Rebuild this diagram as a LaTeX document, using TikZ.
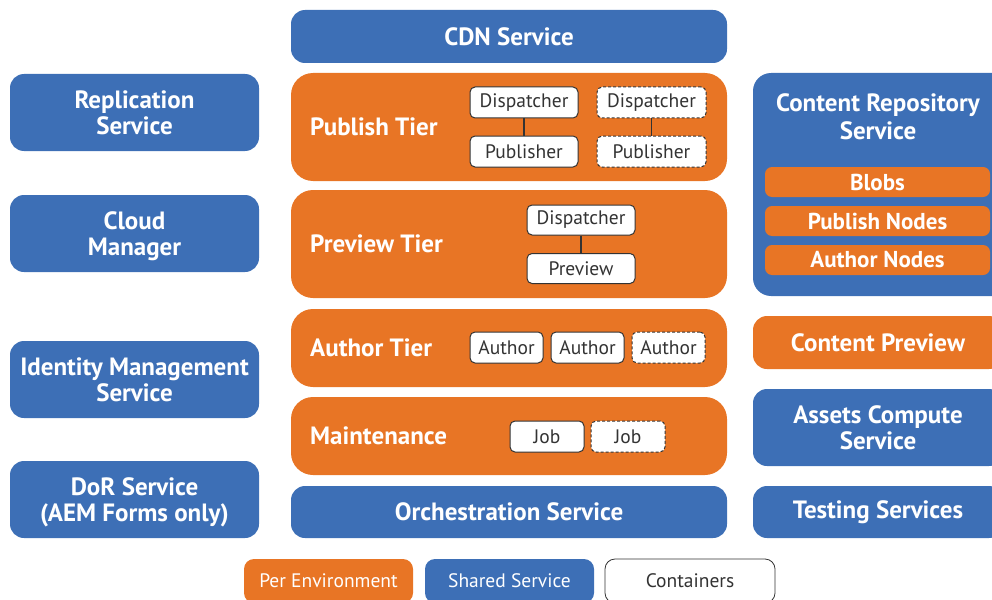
\documentclass[tikz,border=0pt]{standalone}
\usepackage{fontspec}
\setmainfont{PT Sans}
\definecolor{aemblue}{RGB}{61,111,182}
\definecolor{aemorange}{RGB}{232,117,37}
\definecolor{boxline}{RGB}{51,51,51}
\newcommand{\nodepth}[1]{\raisebox{0pt}[\height][0pt]{#1}}
\tikzset{
  x=1pt, y=-1pt,
  bluebox/.style={fill=aemblue, draw=none, rounded corners=14pt, text=white, align=center,
    font=\fontsize{25}{26}\selectfont\bfseries, inner sep=0pt},
  orangebox/.style={fill=aemorange, draw=none, rounded corners=22pt, inner sep=0pt},
  orangebar/.style={fill=aemorange, draw=none, rounded corners=7pt, text=white,
    font=\fontsize{23}{24}\selectfont\bfseries, inner sep=0pt},
  tierlabel/.style={text=white, font=\fontsize{25}{26}\selectfont\bfseries, anchor=west, inner sep=0pt},
  cont/.style={fill=white, draw=boxline, line width=1pt, rounded corners=5pt, inner sep=0pt,
    text=boxline, font=\fontsize{19.5}{20}\selectfont, minimum height=31pt},
  contd/.style={cont, dashed, dash pattern=on 3pt off 2pt},
  link/.style={draw=boxline, line width=1.2pt},
  legend/.style={rounded corners=10pt, inner sep=0pt, minimum width=169pt, minimum height=44pt,
    font=\fontsize{19.5}{20}\selectfont},
}
\begin{document}
\begin{tikzpicture}
\useasboundingbox (0,0) rectangle (992,599);
\clip (0,0) rectangle (992,599);

% centre column
\node[bluebox, minimum width=436pt, minimum height=53pt] (cdn) at (509,36.5) {CDN Service};
\node[orangebox, minimum width=436pt, minimum height=108pt] (pub) at (509,127) {};
\node[orangebox, minimum width=436pt, minimum height=108pt] (prev) at (509,244) {};
\node[orangebox, minimum width=436pt, minimum height=78pt] (auth) at (509,348) {};
\node[orangebox, minimum width=436pt, minimum height=78pt] (maint) at (509,436) {};
\node[bluebox, minimum width=436pt, minimum height=52pt] (orch) at (509,512) {Orchestration Service};

\node[tierlabel] (publbl) at (310,127) {Publish Tier};
\node[tierlabel] (prevlbl) at (310,244) {Preview Tier};
\node[tierlabel] (authlbl) at (310,348) {Author Tier};
\node[tierlabel] (maintlbl) at (310,436) {Maintenance};

% publish containers
\node[cont, minimum width=108pt] (disp1) at (524,102.5) {Dispatcher};
\node[cont, minimum width=108pt] (publ1) at (524,151.5) {Publisher};
\node[contd, minimum width=109pt] (disp2) at (651.5,102.5) {Dispatcher};
\node[contd, minimum width=109pt] (publ2) at (651.5,151.5) {Publisher};
\draw[link] (disp1) -- (publ1);
\draw[link] (disp2) -- (publ2);

% preview containers
\node[cont, minimum width=108pt, minimum height=30pt] (pdisp) at (581,220) {Dispatcher};
\node[cont, minimum width=108pt, minimum height=30pt] (pprev) at (581,268.5) {Preview};
\draw[link] (pdisp) -- (pprev);

% author containers
\node[cont, minimum width=73pt] (a1) at (506.5,347.5) {Author};
\node[cont, minimum width=73pt] (a2) at (587.5,347.5) {Author};
\node[contd, minimum width=73pt] (a3) at (668.5,347.5) {Author};

% jobs
\node[cont, minimum width=74pt] (j1) at (547,436.5) {Job};
\node[contd, minimum width=74pt] (j2) at (628,436.5) {Job};

% left column
\node[bluebox, minimum width=249pt, minimum height=77pt] (rep) at (134.5,112.5) {Replication\\Service};
\node[bluebox, minimum width=249pt, minimum height=77pt] (cloud) at (134.5,233.5) {Cloud\\\nodepth{Manager}};
\node[bluebox, minimum width=249pt, minimum height=77pt] (idm) at (134.5,379.5) {Identity Management\\Service};
\node[bluebox, minimum width=249pt, minimum height=77pt] (dor) at (134.5,499.5) {DoR Service\\\nodepth{(AEM Forms only)}};

% right column
\node[bluebox, minimum width=257pt, minimum height=223pt, rounded corners=18pt] (crs) at (881.5,184.5) {};
\node[text=white, align=center, font=\fontsize{25}{28}\selectfont\bfseries, inner sep=0pt] (crslbl) at (878,117) {Content Repository\\Service};
\node[orangebar, minimum width=225pt, minimum height=30pt] (blobs) at (877.5,182) {Blobs};
\node[orangebar, minimum width=225pt, minimum height=30pt] (pnodes) at (877.5,221) {Publish Nodes};
\node[orangebar, minimum width=225pt, minimum height=30pt] (anodes) at (877.5,260) {Author Nodes};

\node[orangebox, rounded corners=14pt, minimum width=250pt, minimum height=53pt, text=white,
  font=\fontsize{25}{26}\selectfont\bfseries] (cprev) at (878,342.5) {Content Preview};
\node[bluebox, minimum width=250pt, minimum height=77pt] (assets) at (878,427.5) {Assets Compute\\Service};
\node[bluebox, minimum width=250pt, minimum height=52pt] (test) at (878,512) {Testing Services};

% legend
\node[legend, fill=aemorange, text=white] (lgper) at (328.5,581) {Per Environment};
\node[legend, fill=aemblue, text=white] (lgshared) at (509.5,581) {Shared Service};
\node[legend, fill=white, draw=boxline, line width=0.8pt, text=boxline, minimum width=170pt] (lgcont) at (690,581) {Containers};
\end{tikzpicture}
\end{document}
